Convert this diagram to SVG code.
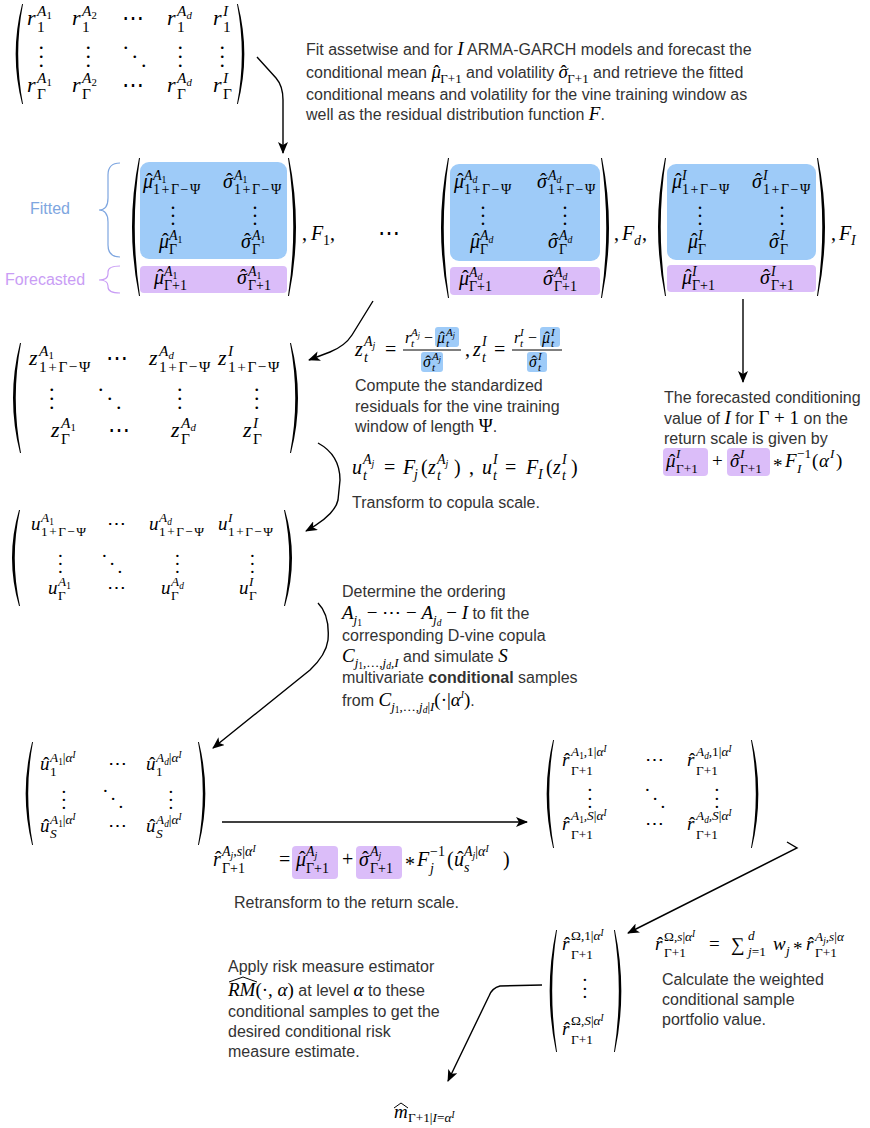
<svg xmlns="http://www.w3.org/2000/svg" width="870" height="1128" viewBox="0 0 870 1128">
<style>
.t{font-family:"Liberation Sans",Arial,sans-serif;font-size:16px;fill:#333}
.m text{font-family:"Liberation Serif","Times New Roman",serif;font-style:italic;fill:#000}
.m .u{font-style:normal}
.m .dt{font-family:"DejaVu Serif",serif;font-style:normal}
.S{font-size:0.7em}
.Q{font-size:0.7em}
.ls{letter-spacing:1.5px}
.mi,.mr,.ms,.msr,.mq,.mqr{font-family:"Liberation Serif","Times New Roman",serif;fill:#000}
.mi{font-style:italic;font-size:19px}
.mr{font-style:normal;font-size:19px}
.ms{font-style:italic;font-size:13px}
.msr{font-style:normal;font-size:13px}
.mq{font-style:italic;font-size:9.5px}
.mqr{font-style:normal;font-size:9.5px}
.bl{fill:#9ECBF8}
.pu{fill:#DBBDF9}
.cn{fill:none;stroke:#000;stroke-width:1.4}
.hat{fill:none;stroke:#000;stroke-width:1}
.fit{font-family:"Liberation Sans",Arial,sans-serif;font-size:16px;fill:#7EA6E0}
.fc{font-family:"Liberation Sans",Arial,sans-serif;font-size:16px;fill:#C99DF5}
</style>
<defs>
<symbol id="lp" viewBox="0 0 12 100" preserveAspectRatio="none"><path d="M11,0 Q-3,50 11,100 L12,100 Q1.5,50 12,0 Z" fill="#000"/></symbol>
<symbol id="rp" viewBox="0 0 12 100" preserveAspectRatio="none"><path d="M1,0 Q15,50 1,100 L0,100 Q10.5,50 0,0 Z" fill="#000"/></symbol>
<marker id="ah" viewBox="0 0 12 10" refX="11" refY="5" markerWidth="12" markerHeight="10" markerUnits="userSpaceOnUse" orient="auto"><path d="M0,0 L12,5 L0,10 L3,5 Z" fill="#000"/></marker>
</defs>
<rect width="870" height="1128" fill="#fff"/>

<!-- returns matrix -->
<g id="n-returns" class="m" font-size="22">
<use href="#lp" x="12" y="4" width="11" height="100"/>
<use href="#rp" x="237" y="4" width="11" height="100"/>
<g transform="translate(27,25)"><text>r</text><text class="S" x="10" y="-9">A<tspan class="Q u" dy="3">1</tspan></text><text class="S u" x="10" y="7">1</text></g>
<g transform="translate(72,25)"><text>r</text><text class="S" x="10" y="-9">A<tspan class="Q u" dy="3">2</tspan></text><text class="S u" x="10" y="7">1</text></g>
<text class="dt" x="122" y="25">⋯</text>
<g transform="translate(167,25)"><text>r</text><text class="S" x="10" y="-9">A<tspan class="Q" dy="3">d</tspan></text><text class="S u" x="10" y="7">1</text></g>
<g transform="translate(213,25)"><text>r</text><text class="S" x="10" y="-9">I</text><text class="S u" x="10" y="7">1</text></g>
<text class="u" x="38.5" y="49">.<tspan x="38.5" dy="9">.</tspan><tspan x="38.5" dy="9">.</tspan></text>
<text class="u" x="85.5" y="49">.<tspan x="85.5" dy="9">.</tspan><tspan x="85.5" dy="9">.</tspan></text>
<text class="u" x="123" y="49">.<tspan dx="3.5" dy="9">.</tspan><tspan dx="3.5" dy="9">.</tspan></text>
<text class="u" x="177.5" y="49">.<tspan x="177.5" dy="9">.</tspan><tspan x="177.5" dy="9">.</tspan></text>
<text class="u" x="219.5" y="49">.<tspan x="219.5" dy="9">.</tspan><tspan x="219.5" dy="9">.</tspan></text>
<g transform="translate(27,92)"><text>r</text><text class="S" x="10" y="-9">A<tspan class="Q u" dy="3">1</tspan></text><text class="S u" x="10" y="7">Γ</text></g>
<g transform="translate(72,92)"><text>r</text><text class="S" x="10" y="-9">A<tspan class="Q u" dy="3">2</tspan></text><text class="S u" x="10" y="7">Γ</text></g>
<text class="dt" x="122" y="92">⋯</text>
<g transform="translate(167,92)"><text>r</text><text class="S" x="10" y="-9">A<tspan class="Q" dy="3">d</tspan></text><text class="S u" x="10" y="7">Γ</text></g>
<g transform="translate(213,92)"><text>r</text><text class="S" x="10" y="-9">I</text><text class="S u" x="10" y="7">Γ</text></g>
</g>

<!-- fit text -->
<g id="n-fit-text">
<text class="t" x="306" y="55">Fit assetwise and for <tspan class="mi">I</tspan> ARMA-GARCH models and forecast the</text>
<text class="t" x="306" y="78">conditional mean <tspan class="mi">μ</tspan><tspan class="mr" dx="-7.5">ˆ</tspan><tspan class="msr" dy="5" dx="0.5">Γ+1</tspan><tspan dy="-5"> and volatility </tspan><tspan class="mi">σ</tspan><tspan class="mr" dx="-7.5">ˆ</tspan><tspan class="msr" dy="5" dx="0.5">Γ+1</tspan><tspan dy="-5"> and retrieve the fitted</tspan></text>
<text class="t" x="306" y="100">conditional means and volatility for the vine training window as</text>
<text class="t" x="306" y="120">well as the residual distribution function <tspan class="mi">F</tspan>.</text>
</g>

<!-- labels -->
<g id="n-fitted-label">
<text class="fit" x="30" y="214">Fitted</text>
<path d="M120,163 Q108,163 108,175 L108,198 Q108,210 99,210 Q108,210 108,222 L108,245 Q108,257 120,257" fill="none" stroke="#7EA6E0" stroke-width="1.2"/>
</g>
<g id="n-forecasted-label">
<text class="fc" x="5" y="285">Forecasted</text>
<path d="M120,266 Q108,266 108,272 L108,274 Q108,280 99,280 Q108,280 108,286 L108,287 Q108,293 120,293" fill="none" stroke="#C99DF5" stroke-width="1.2"/>
</g>

<!-- block A1 -->
<g id="n-block-a1" class="m" font-size="20">
<rect class="bl" x="140" y="162" width="147" height="97" rx="9"/>
<rect class="pu" x="140" y="266" width="147" height="27" rx="4"/>
<use href="#lp" x="128" y="158" width="12" height="138"/>
<use href="#rp" x="288" y="158" width="12" height="138"/>
<g transform="translate(143,188)"><text>μ</text><text class="u" x="3" y="0">ˆ</text><text class="S" x="10" y="-8">A<tspan class="Q u" dy="3">1</tspan></text><text class="S u ls" x="10" y="6">1+Γ−Ψ</text></g>
<g transform="translate(223,188)"><text>σ</text><text class="u" x="3" y="0">ˆ</text><text class="S" x="11" y="-8">A<tspan class="Q u" dy="3">1</tspan></text><text class="S u ls" x="11" y="6">1+Γ−Ψ</text></g>
<text class="u" x="170.5" y="209">.<tspan x="170.5" dy="8">.</tspan><tspan x="170.5" dy="8">.</tspan></text>
<text class="u" x="252.5" y="209">.<tspan x="252.5" dy="8">.</tspan><tspan x="252.5" dy="8">.</tspan></text>
<g transform="translate(159,248)"><text>μ</text><text class="u" x="3" y="0">ˆ</text><text class="S" x="10" y="-8">A<tspan class="Q u" dy="3">1</tspan></text><text class="S u" x="10" y="6">Γ</text></g>
<g transform="translate(241,248)"><text>σ</text><text class="u" x="3" y="0">ˆ</text><text class="S" x="11" y="-8">A<tspan class="Q u" dy="3">1</tspan></text><text class="S u" x="11" y="6">Γ</text></g>
<g transform="translate(154,284)"><text>μ</text><text class="u" x="3" y="0">ˆ</text><text class="S" x="10" y="-8">A<tspan class="Q u" dy="3">1</tspan></text><text class="S u" x="10" y="6">Γ+1</text></g>
<g transform="translate(237,284)"><text>σ</text><text class="u" x="3" y="0">ˆ</text><text class="S" x="11" y="-8">A<tspan class="Q u" dy="3">1</tspan></text><text class="S u" x="11" y="6">Γ+1</text></g>
<text class="u" x="302" y="240">,</text><text x="311" y="240">F</text><text class="S u" x="323" y="245">1</text><text class="u" x="330" y="240">,</text>
</g>

<g id="n-dots" class="m" font-size="22"><text class="dt" x="378" y="240">⋯</text></g>

<!-- block Ad -->
<g id="n-block-ad" class="m" font-size="20">
<rect class="bl" x="450" y="164" width="150" height="97" rx="9"/>
<rect class="pu" x="450" y="267" width="150" height="28" rx="4"/>
<use href="#lp" x="437" y="158" width="12" height="140"/>
<use href="#rp" x="601" y="158" width="12" height="140"/>
<g transform="translate(454,188)"><text>μ</text><text class="u" x="3" y="0">ˆ</text><text class="S" x="10" y="-8">A<tspan class="Q" dy="3">d</tspan></text><text class="S u ls" x="10" y="6">1+Γ−Ψ</text></g>
<g transform="translate(537,188)"><text>σ</text><text class="u" x="3" y="0">ˆ</text><text class="S" x="11" y="-8">A<tspan class="Q" dy="3">d</tspan></text><text class="S u ls" x="11" y="6">1+Γ−Ψ</text></g>
<text class="u" x="480.5" y="209">.<tspan x="480.5" dy="8">.</tspan><tspan x="480.5" dy="8">.</tspan></text>
<text class="u" x="562.5" y="209">.<tspan x="562.5" dy="8">.</tspan><tspan x="562.5" dy="8">.</tspan></text>
<g transform="translate(470,248)"><text>μ</text><text class="u" x="3" y="0">ˆ</text><text class="S" x="10" y="-8">A<tspan class="Q" dy="3">d</tspan></text><text class="S u" x="10" y="6">Γ</text></g>
<g transform="translate(548,248)"><text>σ</text><text class="u" x="3" y="0">ˆ</text><text class="S" x="11" y="-8">A<tspan class="Q" dy="3">d</tspan></text><text class="S u" x="11" y="6">Γ</text></g>
<g transform="translate(459,285)"><text>μ</text><text class="u" x="3" y="0">ˆ</text><text class="S" x="10" y="-8">A<tspan class="Q" dy="3">d</tspan></text><text class="S u" x="10" y="6">Γ+1</text></g>
<g transform="translate(543,285)"><text>σ</text><text class="u" x="3" y="0">ˆ</text><text class="S" x="11" y="-8">A<tspan class="Q" dy="3">d</tspan></text><text class="S u" x="11" y="6">Γ+1</text></g>
<text class="u" x="614" y="240">,</text><text x="622" y="240">F</text><text class="S" x="634" y="245">d</text><text class="u" x="642" y="240">,</text>
</g>

<!-- block I -->
<g id="n-block-i" class="m" font-size="20">
<rect class="bl" x="667" y="164" width="149" height="96" rx="9"/>
<rect class="pu" x="667" y="265" width="149" height="27" rx="4"/>
<use href="#lp" x="654" y="158" width="12" height="138"/>
<use href="#rp" x="817" y="158" width="12" height="138"/>
<g transform="translate(672,188)"><text>μ</text><text class="u" x="3" y="0">ˆ</text><text class="S" x="10" y="-8">I</text><text class="S u ls" x="10" y="6">1+Γ−Ψ</text></g>
<g transform="translate(752,188)"><text>σ</text><text class="u" x="3" y="0">ˆ</text><text class="S" x="11" y="-8">I</text><text class="S u ls" x="11" y="6">1+Γ−Ψ</text></g>
<text class="u" x="697.5" y="209">.<tspan x="697.5" dy="8">.</tspan><tspan x="697.5" dy="8">.</tspan></text>
<text class="u" x="779.5" y="209">.<tspan x="779.5" dy="8">.</tspan><tspan x="779.5" dy="8">.</tspan></text>
<g transform="translate(688,248)"><text>μ</text><text class="u" x="3" y="0">ˆ</text><text class="S" x="10" y="-8">I</text><text class="S u" x="10" y="6">Γ</text></g>
<g transform="translate(769,248)"><text>σ</text><text class="u" x="3" y="0">ˆ</text><text class="S" x="11" y="-8">I</text><text class="S u" x="11" y="6">Γ</text></g>
<g transform="translate(682,284)"><text>μ</text><text class="u" x="3" y="0">ˆ</text><text class="S" x="10" y="-8">I</text><text class="S u" x="10" y="6">Γ+1</text></g>
<g transform="translate(760,284)"><text>σ</text><text class="u" x="3" y="0">ˆ</text><text class="S" x="11" y="-8">I</text><text class="S u" x="11" y="6">Γ+1</text></g>
<text class="u" x="831" y="240">,</text><text x="839" y="240">F</text><text class="S" x="851" y="245">I</text>
</g>

<!-- z matrix -->
<g id="n-z" class="m" font-size="22">
<use href="#lp" x="9" y="343" width="12" height="110"/>
<use href="#rp" x="290" y="343" width="12" height="110"/>
<g transform="translate(29,365)"><text>z</text><text class="S" x="10" y="-9">A<tspan class="Q u" dy="3">1</tspan></text><text class="S u ls" x="10" y="7">1+Γ−Ψ</text></g>
<text class="dt" x="106" y="365">⋯</text>
<g transform="translate(149,365)"><text>z</text><text class="S" x="10" y="-9">A<tspan class="Q" dy="3">d</tspan></text><text class="S u ls" x="10" y="7">1+Γ−Ψ</text></g>
<g transform="translate(218,365)"><text>z</text><text class="S" x="10" y="-9">I</text><text class="S u ls" x="10" y="7">1+Γ−Ψ</text></g>
<text class="u" x="49" y="391">.<tspan x="49" dy="9">.</tspan><tspan x="49" dy="9">.</tspan></text>
<text class="u" x="98" y="391">.<tspan dx="3.5" dy="9">.</tspan><tspan dx="3.5" dy="9">.</tspan></text>
<text class="u" x="177" y="391">.<tspan x="177" dy="9">.</tspan><tspan x="177" dy="9">.</tspan></text>
<text class="u" x="254" y="391">.<tspan x="254" dy="9">.</tspan><tspan x="254" dy="9">.</tspan></text>
<g transform="translate(51,437)"><text>z</text><text class="S" x="10" y="-9">A<tspan class="Q u" dy="3">1</tspan></text><text class="S u" x="10" y="7">Γ</text></g>
<text class="dt" x="108" y="437">⋯</text>
<g transform="translate(171,437)"><text>z</text><text class="S" x="10" y="-9">A<tspan class="Q" dy="3">d</tspan></text><text class="S u" x="10" y="7">Γ</text></g>
<g transform="translate(243,437)"><text>z</text><text class="S" x="10" y="-9">I</text><text class="S u" x="10" y="7">Γ</text></g>
</g>

<!-- z formula + text -->
<g id="n-z-formula" class="m" font-size="20">
<text x="355" y="356">z</text><text class="S" x="364" y="346">A<tspan class="Q" dy="3">j</tspan></text><text class="S" x="364" y="362">t</text>
<text class="u" x="385" y="356">=</text>
<g font-size="16">
<rect class="bl" x="435" y="327" width="24" height="20" rx="3"/>
<text x="405" y="343">r</text><text class="S" x="411" y="336">A<tspan class="Q" dy="2">j</tspan></text><text class="S" x="411" y="347">t</text>
<text class="u" x="424" y="343">−</text>
<text x="437" y="343">μ</text><text class="u" x="439.5" y="343">ˆ</text><text class="S" x="446" y="336">A<tspan class="Q" dy="2">j</tspan></text><text class="S" x="446" y="347">t</text>
<rect class="bl" x="421" y="352" width="22" height="20" rx="3"/>
<text x="423" y="367">σ</text><text class="u" x="425.5" y="367">ˆ</text><text class="S" x="432" y="360">A<tspan class="Q" dy="2">j</tspan></text><text class="S" x="432" y="371">t</text>
</g>
<line x1="403" y1="350" x2="461" y2="350" stroke="#000" stroke-width="1"/>
<text class="u" x="465" y="356">,</text>
<text x="473" y="356">z</text><text class="S" x="482" y="346">I</text><text class="S" x="482" y="362">t</text>
<text class="u" x="494" y="356">=</text>
<g font-size="16">
<rect class="bl" x="540" y="327" width="20" height="20" rx="3"/>
<text x="514" y="343">r</text><text class="S" x="520" y="336">I</text><text class="S" x="520" y="347">t</text>
<text class="u" x="528" y="343">−</text>
<text x="542" y="343">μ</text><text class="u" x="544.5" y="343">ˆ</text><text class="S" x="551" y="336">I</text><text class="S" x="551" y="347">t</text>
<rect class="bl" x="527" y="352" width="20" height="20" rx="3"/>
<text x="529" y="367">σ</text><text class="u" x="531.5" y="367">ˆ</text><text class="S" x="538" y="360">I</text><text class="S" x="538" y="371">t</text>
</g>
<line x1="512" y1="350" x2="562" y2="350" stroke="#000" stroke-width="1"/>
</g>
<g id="n-z-text">
<text class="t" x="355" y="391">Compute the standardized</text>
<text class="t" x="355" y="412">residuals for the vine training</text>
<text class="t" x="355" y="432">window of  length <tspan class="mr">Ψ</tspan>.</text>
</g>

<!-- u formula -->
<g id="n-u-formula" class="m" font-size="20">
<text x="352" y="474">u</text><text class="S" x="363" y="464">A<tspan class="Q" dy="3">j</tspan></text><text class="S" x="363" y="480">t</text>
<text class="u" x="384" y="474">=</text>
<text x="403" y="474">F</text><text class="S" x="414" y="479">j</text>
<text class="u" x="421" y="474">(</text><text x="428" y="474">z</text><text class="S" x="437" y="464">A<tspan class="Q" dy="3">j</tspan></text><text class="S" x="437" y="480">t</text><text class="u" x="454" y="474">)</text>
<text class="u" x="469" y="474">,</text>
<text x="482" y="474">u</text><text class="S" x="493" y="464">I</text><text class="S" x="493" y="480">t</text>
<text class="u" x="505" y="474">=</text>
<text x="526" y="474">F</text><text class="S" x="538" y="479">I</text>
<text class="u" x="546" y="474">(</text><text x="553" y="474">z</text><text class="S" x="562" y="464">I</text><text class="S" x="562" y="480">t</text><text class="u" x="571" y="474">)</text>
</g>
<g id="n-u-text"><text class="t" x="352" y="508">Transform to copula scale.</text></g>

<!-- u matrix -->
<g id="n-u" class="m" font-size="19">
<use href="#lp" x="8" y="510" width="12" height="96"/>
<use href="#rp" x="284" y="510" width="12" height="96"/>
<g transform="translate(31,530)"><text>u</text><text class="S" x="10" y="-8">A<tspan class="Q u" dy="3">1</tspan></text><text class="S u ls" x="10" y="6">1+Γ−Ψ</text></g>
<text class="dt" x="107" y="530">⋯</text>
<g transform="translate(149,530)"><text>u</text><text class="S" x="10" y="-8">A<tspan class="Q" dy="3">d</tspan></text><text class="S u ls" x="10" y="6">1+Γ−Ψ</text></g>
<g transform="translate(218,530)"><text>u</text><text class="S" x="10" y="-8">I</text><text class="S u ls" x="10" y="6">1+Γ−Ψ</text></g>
<text class="u" x="58" y="557">.<tspan x="58" dy="8">.</tspan><tspan x="58" dy="8">.</tspan></text>
<text class="u" x="102" y="557">.<tspan dx="3" dy="8">.</tspan><tspan dx="3" dy="8">.</tspan></text>
<text class="u" x="175" y="557">.<tspan x="175" dy="8">.</tspan><tspan x="175" dy="8">.</tspan></text>
<text class="u" x="250" y="557">.<tspan x="250" dy="8">.</tspan><tspan x="250" dy="8">.</tspan></text>
<g transform="translate(48,594)"><text>u</text><text class="S" x="10" y="-8">A<tspan class="Q u" dy="3">1</tspan></text><text class="S u" x="10" y="6">Γ</text></g>
<text class="dt" x="107" y="594">⋯</text>
<g transform="translate(161,594)"><text>u</text><text class="S" x="10" y="-8">A<tspan class="Q" dy="3">d</tspan></text><text class="S u" x="10" y="6">Γ</text></g>
<g transform="translate(239,594)"><text>u</text><text class="S" x="10" y="-8">I</text><text class="S u" x="10" y="6">Γ</text></g>
</g>

<!-- determine text -->
<g id="n-vine-text">
<text class="t" x="342" y="597">Determine the ordering</text>
<text class="t" x="342" y="619"><tspan class="mi">A</tspan><tspan class="ms" dy="5">j</tspan><tspan class="mqr" dy="2">1</tspan><tspan class="mr" dy="-7"> − ⋯ − </tspan><tspan class="mi">A</tspan><tspan class="ms" dy="5">j</tspan><tspan class="mq" dy="2">d</tspan><tspan class="mr" dy="-7"> − </tspan><tspan class="mi">I</tspan> to fit the</text>
<text class="t" x="342" y="641">corresponding D-vine copula</text>
<text class="t" x="342" y="662"><tspan class="mi">C</tspan><tspan class="ms" dy="5">j</tspan><tspan class="mqr" dy="2">1</tspan><tspan class="msr" dy="-2">,…,</tspan><tspan class="ms">j</tspan><tspan class="mq" dy="2">d</tspan><tspan class="msr" dy="-2">,</tspan><tspan class="ms">I</tspan><tspan dy="-5"> and simulate </tspan><tspan class="mi">S</tspan></text>
<text class="t" x="342" y="683">multivariate <tspan font-weight="bold">conditional</tspan> samples</text>
<text class="t" x="342" y="706">from <tspan class="mi">C</tspan><tspan class="ms" dy="5">j</tspan><tspan class="mqr" dy="2">1</tspan><tspan class="msr" dy="-2">,…,</tspan><tspan class="ms">j</tspan><tspan class="mq" dy="2">d</tspan><tspan class="msr" dy="-2">|</tspan><tspan class="ms">I</tspan><tspan class="mr" dy="-5">(·|</tspan><tspan class="mi">α</tspan><tspan class="mq" dy="-8">I</tspan><tspan class="mr" dy="8">)</tspan>.</text>
</g>

<!-- right text -->
<g id="n-cond-text">
<text class="t" x="664" y="403">The forecasted conditioning</text>
<text class="t" x="664" y="424">value of <tspan class="mi">I</tspan> for <tspan class="mr">Γ + 1</tspan> on the</text>
<text class="t" x="664" y="444">return scale is given by</text>
<g class="m" font-size="19">
<rect class="pu" x="663" y="448" width="45" height="28" rx="4"/>
<rect class="pu" x="727" y="448" width="43" height="28" rx="4"/>
<text x="666" y="467">μ</text><text class="u" x="669" y="467">ˆ</text><text class="S" x="676" y="458">I</text><text class="S u" x="676" y="473">Γ+1</text>
<text class="u" x="712" y="467">+</text>
<text x="730" y="467">σ</text><text class="u" x="733" y="467">ˆ</text><text class="S" x="740" y="458">I</text><text class="S u" x="740" y="473">Γ+1</text>
<text class="u" x="773" y="472">*</text>
<text x="785" y="467">F</text><text class="S u" x="797" y="458">−1</text><text class="S" x="797" y="473">I</text>
<text class="u" x="812" y="467">(</text><text x="819" y="467">α</text><text class="S" x="830" y="458">I</text><text class="u" x="836" y="467">)</text>
</g>
</g>

<!-- u-hat matrix -->
<g id="n-uhat" class="m" font-size="19">
<use href="#lp" x="22" y="742" width="11" height="103"/>
<use href="#rp" x="198" y="742" width="11" height="103"/>
<g transform="translate(40,770)"><text>u</text><text class="u" x="3" y="0">ˆ</text><text class="S" x="10" y="-8">A<tspan class="Q u" dy="3">1</tspan><tspan class="u" dy="-3">|</tspan>α<tspan class="Q" dy="-4">I</tspan></text><text class="S u" x="10" y="6">1</text></g>
<text class="dt" x="108" y="770">⋯</text>
<g transform="translate(146,770)"><text>u</text><text class="u" x="3" y="0">ˆ</text><text class="S" x="10" y="-8">A<tspan class="Q" dy="3">d</tspan><tspan class="u" dy="-3">|</tspan>α<tspan class="Q" dy="-4">I</tspan></text><text class="S u" x="10" y="6">1</text></g>
<text class="u" x="61.5" y="793">.<tspan x="61.5" dy="8">.</tspan><tspan x="61.5" dy="8">.</tspan></text>
<text class="u" x="103" y="792">.<tspan dx="3" dy="8">.</tspan><tspan dx="3" dy="8">.</tspan></text>
<text class="u" x="168.5" y="793">.<tspan x="168.5" dy="8">.</tspan><tspan x="168.5" dy="8">.</tspan></text>
<g transform="translate(40,832)"><text>u</text><text class="u" x="3" y="0">ˆ</text><text class="S" x="10" y="-8">A<tspan class="Q u" dy="3">1</tspan><tspan class="u" dy="-3">|</tspan>α<tspan class="Q" dy="-4">I</tspan></text><text class="S" x="10" y="6">S</text></g>
<text class="dt" x="108" y="832">⋯</text>
<g transform="translate(146,832)"><text>u</text><text class="u" x="3" y="0">ˆ</text><text class="S" x="10" y="-8">A<tspan class="Q" dy="3">d</tspan><tspan class="u" dy="-3">|</tspan>α<tspan class="Q" dy="-4">I</tspan></text><text class="S" x="10" y="6">S</text></g>
</g>

<!-- r-hat formula -->
<g id="n-rhat-formula" class="m" font-size="20">
<rect class="pu" x="292" y="846" width="46" height="33" rx="4"/>
<rect class="pu" x="356" y="846" width="46" height="33" rx="4"/>
<text x="213" y="866">r</text><text class="u" x="215" y="866">ˆ</text><text class="S" x="222" y="856">A<tspan class="Q" dy="3">j</tspan><tspan dy="-3">,s</tspan><tspan class="u">|</tspan>α<tspan class="Q" dy="-4">I</tspan></text><text class="S u" x="222" y="873">Γ+1</text>
<text class="u" x="279" y="866">=</text>
<text x="296" y="866">μ</text><text class="u" x="299" y="866">ˆ</text><text class="S" x="306" y="856">A<tspan class="Q" dy="3">j</tspan></text><text class="S u" x="306" y="873">Γ+1</text>
<text class="u" x="342" y="866">+</text>
<text x="359" y="866">σ</text><text class="u" x="362" y="866">ˆ</text><text class="S" x="370" y="856">A<tspan class="Q" dy="3">j</tspan></text><text class="S u" x="370" y="873">Γ+1</text>
<text class="u" x="405" y="871">*</text>
<text x="417" y="866">F</text><text class="S u" x="430" y="856">−1</text><text class="S" x="430" y="873">j</text>
<text class="u" x="447" y="866">(</text><text x="454" y="866">u</text><text class="u" x="457" y="866">ˆ</text><text class="S" x="464" y="856">A<tspan class="Q" dy="3">j</tspan><tspan class="u" dy="-3">|</tspan>α<tspan class="Q" dy="-4">I</tspan></text><text class="S" x="464" y="872">s</text><text class="u" x="503" y="866">)</text>
</g>
<g id="n-rhat-text"><text class="t" x="234" y="908">Retransform to the return scale.</text></g>

<!-- r-hat matrix -->
<g id="n-rhat" class="m" font-size="19">
<use href="#lp" x="543" y="740" width="11" height="108"/>
<use href="#rp" x="751" y="740" width="11" height="108"/>
<g transform="translate(562,766)"><text>r</text><text class="u" x="2" y="0">ˆ</text><text class="S" x="9" y="-10">A<tspan class="Q u" dy="3">1</tspan><tspan class="u" dy="-3">,1|</tspan>α<tspan class="Q" dy="-4">I</tspan></text><text class="S u" x="9" y="9">Γ+1</text></g>
<text class="dt" x="645" y="766">⋯</text>
<g transform="translate(687,766)"><text>r</text><text class="u" x="2" y="0">ˆ</text><text class="S" x="9" y="-10">A<tspan class="Q" dy="3">d</tspan><tspan class="u" dy="-3">,1|</tspan>α<tspan class="Q" dy="-4">I</tspan></text><text class="S u" x="9" y="9">Γ+1</text></g>
<text class="u" x="587.5" y="791">.<tspan x="587.5" dy="8.5">.</tspan><tspan x="587.5" dy="8.5">.</tspan></text>
<text class="u" x="645" y="791">.<tspan dx="3" dy="8.5">.</tspan><tspan dx="3" dy="8.5">.</tspan></text>
<text class="u" x="714.5" y="791">.<tspan x="714.5" dy="8.5">.</tspan><tspan x="714.5" dy="8.5">.</tspan></text>
<g transform="translate(562,830)"><text>r</text><text class="u" x="2" y="0">ˆ</text><text class="S" x="9" y="-10">A<tspan class="Q u" dy="3">1</tspan><tspan dy="-3">,S</tspan><tspan class="u">|</tspan>α<tspan class="Q" dy="-4">I</tspan></text><text class="S u" x="9" y="9">Γ+1</text></g>
<text class="dt" x="645" y="830">⋯</text>
<g transform="translate(687,830)"><text>r</text><text class="u" x="2" y="0">ˆ</text><text class="S" x="9" y="-10">A<tspan class="Q" dy="3">d</tspan><tspan dy="-3">,S</tspan><tspan class="u">|</tspan>α<tspan class="Q" dy="-4">I</tspan></text><text class="S u" x="9" y="9">Γ+1</text></g>
</g>

<!-- portfolio matrix -->
<g id="n-omega" class="m" font-size="19">
<use href="#lp" x="546" y="930" width="11" height="122"/>
<use href="#rp" x="614" y="930" width="11" height="122"/>
<g transform="translate(562,950)"><text>r</text><text class="u" x="2" y="0">ˆ</text><text class="S" x="9" y="-10"><tspan class="u">Ω,1|</tspan>α<tspan class="Q" dy="-4">I</tspan></text><text class="S u" x="9" y="9">Γ+1</text></g>
<text class="u" x="582.5" y="981">.<tspan x="582.5" dy="8.5">.</tspan><tspan x="582.5" dy="8.5">.</tspan></text>
<g transform="translate(562,1035)"><text>r</text><text class="u" x="2" y="0">ˆ</text><text class="S" x="9" y="-10"><tspan class="u">Ω,</tspan>S<tspan class="u">|</tspan>α<tspan class="Q" dy="-4">I</tspan></text><text class="S u" x="9" y="9">Γ+1</text></g>
</g>
<g id="n-omega-formula" class="m" font-size="19">
<text x="655" y="950">r</text><text class="u" x="657" y="950">ˆ</text><text class="S" x="664" y="941"><tspan class="u">Ω,</tspan>s<tspan class="u">|</tspan>α<tspan class="Q" dy="-4">I</tspan></text><text class="S u" x="664" y="957">Γ+1</text>
<text class="u" x="709" y="950">=</text>
<text class="u" x="731" y="951">∑</text><text class="S" x="748" y="940">d</text><text class="S" x="748" y="956">j<tspan class="u">=1</tspan></text>
<text x="773" y="950">w</text><text class="S" x="786" y="955">j</text>
<text class="u" x="793" y="955">*</text>
<text x="806" y="950">r</text><text class="u" x="808" y="950">ˆ</text><text class="S" x="815" y="941">A<tspan class="Q" dy="3">j</tspan><tspan dy="-3">,s</tspan><tspan class="u">|</tspan>α</text><text class="S u" x="815" y="957">Γ+1</text>
</g>
<g id="n-omega-text">
<text class="t" x="662" y="985">Calculate the weighted</text>
<text class="t" x="662" y="1005">conditional sample</text>
<text class="t" x="662" y="1025">portfolio value.</text>
</g>

<!-- risk measure text -->
<g id="n-rm-text">
<text class="t" x="228" y="972">Apply risk measure estimator</text>
<text class="t" x="228" y="996"><tspan class="mi">RM</tspan><tspan class="mr">(·, </tspan><tspan class="mi">α</tspan><tspan class="mr">)</tspan> at level <tspan class="mi">α</tspan> to these</text>
<polyline class="hat" points="229,982 243,977 257,982"/>
<text class="t" x="228" y="1017">conditional samples to get the</text>
<text class="t" x="228" y="1037">desired conditional risk</text>
<text class="t" x="228" y="1057">measure estimate.</text>
</g>

<g id="n-result" class="m" font-size="19">
<text x="394" y="1118">m</text>
<polyline class="hat" points="394,1108 401,1103 408,1108"/>
<text class="S" x="408" y="1122"><tspan class="u">Γ+1|</tspan>I<tspan class="u">=</tspan>α<tspan class="Q" dy="-4">I</tspan></text>
</g>

<!-- connectors -->
<g id="connectors">
<path class="cn" d="M257,57 L276,78 Q283,86 283,100 L283,153" marker-end="url(#ah)"/>
<path class="cn" d="M373,301 L352,335 Q345,346 330,352 L309,360" marker-end="url(#ah)"/>
<path class="cn" d="M743,299 L743,382" marker-end="url(#ah)"/>
<path class="cn" d="M318,443 Q340,455 340,480 L338,500 Q335,515 306,531" marker-end="url(#ah)"/>
<path class="cn" d="M318,603 Q330,615 328,640 Q326,655 310,670 L213,748" marker-end="url(#ah)"/>
<path class="cn" d="M222,822 L527,822" marker-end="url(#ah)"/>
<path class="cn" d="M787,842 L797,848 L628,933" marker-end="url(#ah)"/>
<path class="cn" d="M542,985 L500,986 Q492,988 489,996 L448,1081" marker-end="url(#ah)"/>
</g>
</svg>
